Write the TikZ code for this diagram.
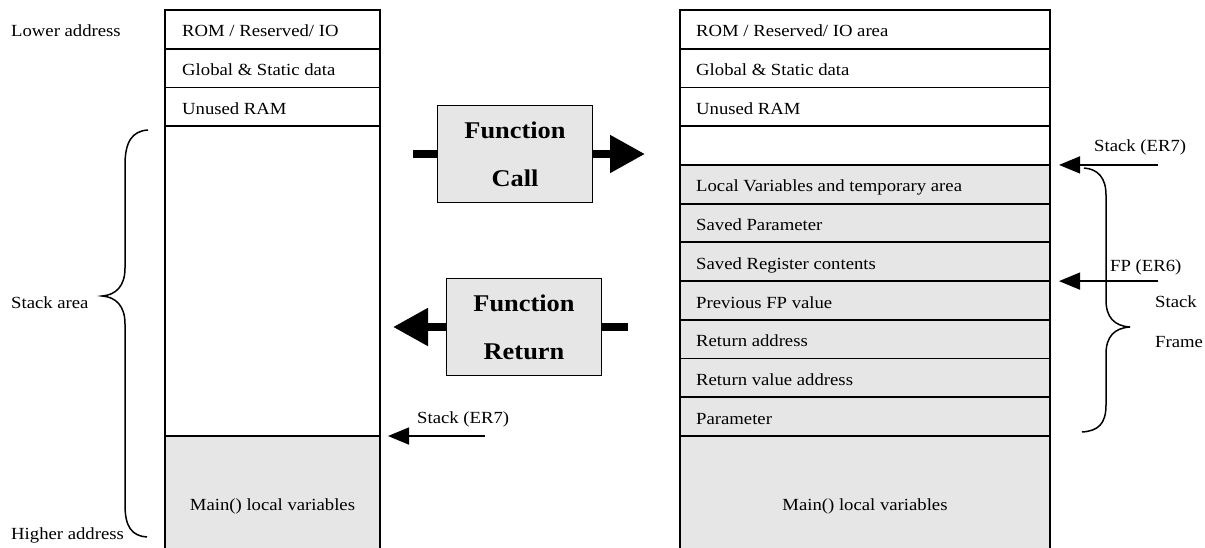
\documentclass[tikz,border=0pt]{standalone}
\usepackage{fontspec}
\setmainfont[FakeStretch=1.1]{Liberation Serif}
\usetikzlibrary{arrows.meta}
\definecolor{cellgray}{HTML}{E6E6E6}
\begin{document}
\begin{tikzpicture}[x=1pt,y=-1pt,
  cellbox/.style={draw, line width=1.8pt, anchor=north west, inner sep=0pt, outer sep=0pt},
  lcell/.style={cellbox, minimum width=215pt, minimum height=38.73pt},
  rcell/.style={cellbox, minimum width=370pt, minimum height=38.73pt},
  grayfill/.style={fill=cellgray},
  lbl/.style={font=\fontsize{17}{20}\selectfont, inner sep=0pt, anchor=base west},
  mainlbl/.style={font=\fontsize{17}{20}\selectfont, inner sep=0pt, anchor=base},
  fbox/.style={draw, line width=1.3pt, fill=cellgray, minimum width=155pt, minimum height=97pt, align=center, font=\fontsize{24}{48}\selectfont\bfseries, inner sep=0pt},
  bigarrow/.style={line width=8pt},
  bighead/.style={-{Triangle[length=35pt,width=36pt]}},
  ptr/.style={line width=1.5pt, -{Triangle[length=21pt,width=17pt]}},
  bracestyle/.style={line width=1.5pt}
]
\useasboundingbox (0,0) rectangle (1205,548);
\fill[white] (0,0) rectangle (1205,548);

% ---------- left column ----------
\node[lcell] (L1) at (165,10) {};
\node[lcell] (L2) at (165,48.73) {};
\node[lcell] (L3) at (165,87.46) {};
\node[cellbox, minimum width=215pt, minimum height=309.84pt] (L4) at (165,126.19) {};
\node[anchor=north west, inner sep=0pt, outer sep=0pt, grayfill, minimum width=215pt, minimum height=112pt] (L5) at (165,436.03) {};
\draw[line width=1.8pt] (L5.north west) -- (L5.south west) (L5.north east) -- (L5.south east);
\draw[line width=1.8pt] (L4.south west) -- (L4.south east);

\node[lbl] (tL1) at (182,37) {ROM / Reserved/ IO};
\node[lbl] (tL2) at (182,75.73) {Global \& Static data};
\node[lbl] (tL3) at (182,114.46) {Unused RAM};
\node[mainlbl] (tL5) at (272.5,510) {Main() local variables};

% ---------- right column ----------
\node[rcell] (R1) at (680,10) {};
\node[rcell] (R2) at (680,48.73) {};
\node[rcell] (R3) at (680,87.46) {};
\node[rcell] (R4) at (680,126.19) {};
\node[rcell, grayfill] (R5) at (680,164.92) {};
\node[rcell, grayfill] (R6) at (680,203.65) {};
\node[rcell, grayfill] (R7) at (680,242.38) {};
\node[rcell, grayfill] (R8) at (680,281.11) {};
\node[rcell, grayfill] (R9) at (680,319.84) {};
\node[rcell, grayfill] (R10) at (680,358.57) {};
\node[rcell, grayfill] (R11) at (680,397.30) {};
\node[anchor=north west, inner sep=0pt, outer sep=0pt, grayfill, minimum width=370pt, minimum height=112pt] (R12) at (680,436.03) {};
\draw[line width=1.8pt] (R12.north west) -- (R12.south west) (R12.north east) -- (R12.south east);
\draw[line width=1.8pt] (R11.south west) -- (R11.south east);

\node[lbl] (tR1) at (696,37) {ROM / Reserved/ IO area};
\node[lbl] (tR2) at (696,75.73) {Global \& Static data};
\node[lbl] (tR3) at (696,114.46) {Unused RAM};
\node[lbl] (tR5) at (696,191.92) {Local Variables and temporary area};
\node[lbl] (tR6) at (696,230.65) {Saved Parameter};
\node[lbl] (tR7) at (696,269.38) {Saved Register contents};
\node[lbl] (tR8) at (696,308.11) {Previous FP value};
\node[lbl] (tR9) at (696,346.84) {Return address};
\node[lbl] (tR10) at (696,385.57) {Return value address};
\node[lbl] (tR11) at (696,424.30) {Parameter};
\node[mainlbl] (tR12) at (865,510) {Main() local variables};

% ---------- left side labels and brace ----------
\node[lbl] (tLow) at (11,37) {Lower address};
\node[lbl] (tSA) at (11,308) {Stack area};
\node[lbl] (tHigh) at (11,539) {Higher address};
\draw[bracestyle] (148,130) .. controls (132,131) and (125,142) .. (125,165) -- (125,268)
  .. controls (125,286) and (116,295) .. (102,296)
  .. controls (116,297) and (125,306) .. (125,324) -- (125,505)
  .. controls (125,527) and (132,536) .. (147,537);

% ---------- left stack pointer ----------
\coordinate (lsTail) at (485,436.03);
\draw[ptr, shorten >=8pt] (lsTail) -- (L4.south east);
\node[lbl] (tLs) at (417,423) {Stack (ER7)};

% ---------- function boxes ----------
\node[fbox] (fc) at (515,154) {Function\\Call};
\coordinate (fcin) at (413,154);
\coordinate (fcout) at (645,154);
\draw[bigarrow] (fcin) -- (fc.west);
\draw[bigarrow, bighead] (fc.east) -- (fcout);

\node[fbox] (fr) at (524,327) {Function\\Return};
\coordinate (frout) at (393,327);
\coordinate (frin) at (628,327);
\draw[bigarrow, bighead] (fr.west) -- (frout);
\draw[bigarrow] (frin) -- (fr.east);

% ---------- right pointers, brace ----------
\coordinate (er7tail) at (1158,164.92);
\coordinate (fptail) at (1158,281.11);
\draw[ptr, shorten >=9pt] (er7tail) -- (R5.north east);
\draw[ptr, shorten >=9pt] (fptail) -- (R8.north east);
\node[lbl] (tER7) at (1094,152) {Stack (ER7)};
\node[lbl] (tFP) at (1110,272) {FP (ER6)};
\node[lbl] (tStack) at (1155,307) {Stack};
\node[lbl] (tFrame) at (1155,347) {Frame};
\draw[bracestyle] (1084,168) .. controls (1098,169) and (1106,178) .. (1106,195) -- (1106,300)
  .. controls (1106,317) and (1114,326) .. (1130,327)
  .. controls (1114,328) and (1106,337) .. (1106,354) -- (1106,405)
  .. controls (1106,424) and (1098,431) .. (1082,432);
\end{tikzpicture}
\end{document}
